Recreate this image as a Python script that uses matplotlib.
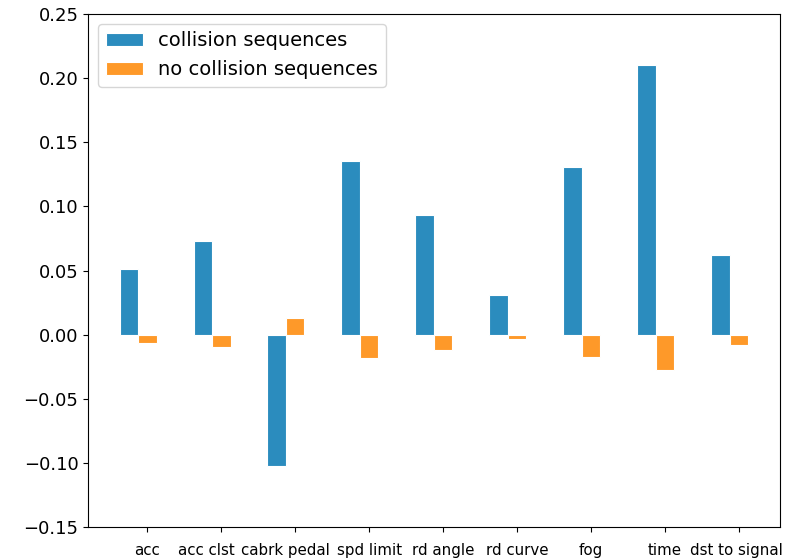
import numpy as np
import matplotlib
matplotlib.use("Agg")
import matplotlib.pyplot as plt
import matplotlib.transforms as mtransforms

features = ["acc", "acc clst", "cabrk pedal", "spd limit", "rd angle",
            "rd curve", "fog", "time", "dst to signal"]
collision = [0.0515, 0.073, -0.1023, 0.1353, 0.0933, 0.0307, 0.1309, 0.2105, 0.0619]
no_collision = [-0.0061, -0.0095, 0.0134, -0.018, -0.012, -0.0035, -0.0173, -0.0279, -0.0079]
# horizontal nudge (inches) so neighbouring tick labels don't collide
label_shift = [0, -0.15, -0.10, 0, 0, 0, 0, 0, -0.03]

plt.rcParams["font.size"] = 13

fig = plt.figure(figsize=(7.94, 5.59), dpi=100)
ax = fig.add_axes([0.111, 0.057, 0.871, 0.918])

x = np.arange(len(features))
w = 0.25
ax.bar(x - w, collision, w, color="#2b8cbe", edgecolor="white", linewidth=0.8,
       label="collision sequences")
ax.bar(x, no_collision, w, color="#fe9929", edgecolor="white", linewidth=0.8,
       label="no collision sequences")

ax.set_ylim(-0.15, 0.25)
ax.set_xticks(x)
ax.set_xticklabels(features, fontsize=10.8)
ax.tick_params(axis="x", pad=8)
for lab, dx in zip(ax.get_xticklabels(), label_shift):
    lab.set_transform(lab.get_transform() +
                      mtransforms.ScaledTranslation(dx, 0, fig.dpi_scale_trans))
ax.legend(loc="upper left", fontsize=14, handlelength=1.9)

fig.savefig("out.png", dpi=100)
